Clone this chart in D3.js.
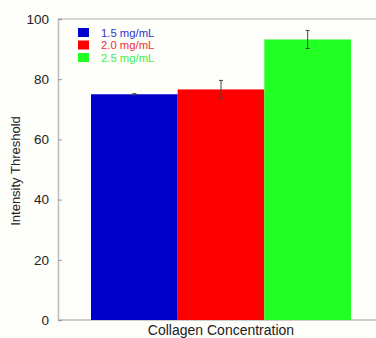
<!DOCTYPE html>
<html><head><meta charset="utf-8">
<script src="https://cdn.jsdelivr.net/npm/d3@7"></script>
<style>body{margin:0;background:#fdfdfa}svg{display:block}</style>
</head><body><svg id="c" width="376" height="338"></svg>
<script>
const categories = ["1.5 mg/mL", "2.0 mg/mL", "2.5 mg/mL"];
const values = [75, 76.6, 93.2];
const errors = [0.2, 3.0, 3.0];
const colors = ["#0000cc", "#ff0000", "#22ff22"];
const textColors = ["#3333cc", "#ee3333", "#44ee44"];
const yTicks = [0, 20, 40, 60, 80, 100];

const svg = d3.select("#c");
const m = {l: 58, r: 376, t: 19, b: 320};
const y = d3.scaleLinear().domain([0, 100]).range([m.b, m.t]);
const x = d3.scaleBand().domain(categories).range([91, 351]).padding(0);
const font = "Liberation Sans, Arial, sans-serif";

svg.append("line").attr("x1", m.l).attr("x2", m.r).attr("y1", m.t).attr("y2", m.t).attr("stroke", "#c8c8c8").attr("stroke-width", 1.5);
svg.append("line").attr("x1", m.l).attr("x2", m.r).attr("y1", m.b).attr("y2", m.b).attr("stroke", "#bbbbbb").attr("stroke-width", 1.5);

const ax = svg.append("g").attr("transform", `translate(${m.l},0)`)
  .call(d3.axisLeft(y).tickValues(yTicks).tickSize(-4).tickPadding(9));
ax.select(".domain").attr("stroke", "#bbbbbb").attr("stroke-width", 1.5);
ax.selectAll(".tick line").attr("stroke", "#999");
ax.selectAll("text").attr("font-family", font).attr("font-size", 13.5).attr("fill", "#222");

svg.selectAll("rect.bar").data(values).join("rect").attr("class", "bar")
  .attr("x", (d, i) => x(categories[i])).attr("width", x.bandwidth())
  .attr("y", d => y(d)).attr("height", d => y(0) - y(d))
  .attr("fill", (d, i) => colors[i]);

const eg = svg.append("g").attr("stroke", "#444").attr("stroke-width", 1);
values.forEach((v, i) => {
  const cx = x(categories[i]) + x.bandwidth() / 2;
  eg.append("line").attr("x1", cx).attr("x2", cx).attr("y1", y(v + errors[i])).attr("y2", y(v - errors[i]));
  eg.append("line").attr("x1", cx - 2).attr("x2", cx + 2).attr("y1", y(v + errors[i])).attr("y2", y(v + errors[i]));
  eg.append("line").attr("x1", cx - 2).attr("x2", cx + 2).attr("y1", y(v - errors[i])).attr("y2", y(v - errors[i]));
});

categories.forEach((c, i) => {
  const ly = 28 + i * 12.5;
  svg.append("rect").attr("x", 78).attr("y", ly).attr("width", 11).attr("height", 9).attr("fill", colors[i]);
  svg.append("text").attr("x", 101).attr("y", ly + 8.5).text(c)
    .attr("font-family", font).attr("font-size", 11.3).attr("fill", textColors[i]);
});

svg.append("text").attr("transform", "translate(20,171) rotate(-90)").attr("text-anchor", "middle")
  .attr("font-family", font).attr("font-size", 13).attr("fill", "#222").text("Intensity Threshold");
svg.append("text").attr("x", 221).attr("y", 334.5).attr("text-anchor", "middle")
  .attr("font-family", font).attr("font-size", 14).attr("fill", "#222").text("Collagen Concentration");
</script></body></html>
